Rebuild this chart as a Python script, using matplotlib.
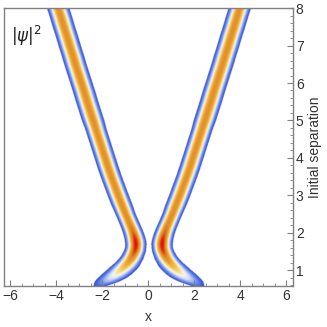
import numpy as np
import matplotlib.pyplot as plt
from matplotlib.colors import LinearSegmentedColormap

# Band centre |x|, peak height and width per separation
separation = [0.58, 0.65, 0.70, 0.80, 0.90, 1.00, 1.10, 1.20, 1.30, 1.40,
              1.50, 1.60, 1.70, 1.80, 1.90, 2.00, 2.10, 2.20, 2.30, 2.40,
              2.50, 2.75, 3.00, 3.25, 3.50, 3.75, 4.00, 4.25, 4.50, 4.75,
              5.00, 5.25, 5.50, 5.75, 6.00, 6.25, 6.50, 6.75, 7.00, 7.25,
              7.50, 7.75, 8.00]
centre = [2.12, 1.94, 1.81, 1.58, 1.38, 1.20, 1.04, 0.90, 0.78, 0.69,
          0.62, 0.58, 0.57, 0.59, 0.63, 0.68, 0.74, 0.81, 0.88, 0.95,
          1.02, 1.18, 1.34, 1.49, 1.64, 1.78, 1.91, 2.04, 2.17, 2.30,
          2.43, 2.56, 2.69, 2.81, 2.94, 3.07, 3.20, 3.32, 3.45, 3.57,
          3.70, 3.82, 3.95]
peak = [0.09, 0.15, 0.21, 0.31, 0.40, 0.49, 0.58, 0.67, 0.76, 0.85,
        0.93, 0.98, 1.00, 0.98, 0.93, 0.87, 0.83, 0.80, 0.78, 0.77,
        0.76, 0.75, 0.75, 0.75, 0.75, 0.75, 0.75, 0.75, 0.75, 0.75,
        0.75, 0.75, 0.75, 0.75, 0.75, 0.75, 0.75, 0.75, 0.75, 0.75,
        0.75, 0.75, 0.75]
width = [0.26, 0.30, 0.32, 0.33, 0.32, 0.30, 0.28, 0.25, 0.23, 0.21,
         0.20, 0.19, 0.19, 0.19, 0.19, 0.19, 0.19, 0.19, 0.19, 0.19,
         0.19, 0.20, 0.20, 0.20, 0.20, 0.20, 0.20, 0.20, 0.20, 0.20,
         0.21, 0.21, 0.21, 0.21, 0.21, 0.21, 0.21, 0.21, 0.21, 0.21,
         0.21, 0.21, 0.21]

x_ticks = [-6, -4, -2, 0, 2, 4, 6]
y_ticks = [1, 2, 3, 4, 5, 6, 7, 8]

# raster rows between the read separations, gaussian cross-section per band
s_fine = np.linspace(separation[0], separation[-1], 900)
xc = np.interp(s_fine, separation, centre)[:, None]
amp = np.interp(s_fine, separation, peak)[:, None]
sig = np.interp(s_fine, separation, width)[:, None]
xg = np.linspace(-6.3, 6.3, 900)
Z = amp * (np.exp(-(xg[None, :] + xc) ** 2 / (2 * sig ** 2)) +
           np.exp(-(xg[None, :] - xc) ** 2 / (2 * sig ** 2)))

cmap = LinearSegmentedColormap.from_list('temp', [
    (0.00, '#2f4fd6'), (0.10, '#7391ea'), (0.22, '#cdd8f6'),
    (0.32, '#f8f6ee'), (0.42, '#f6dc80'), (0.53, '#f2bc44'),
    (0.65, '#e99c34'), (0.78, '#e08a28'), (0.88, '#e05818'),
    (1.00, '#e40808')])
cmap.set_under('white')

fig = plt.figure(figsize=(3.27, 3.27), dpi=100)
ax = fig.add_axes([0.011, 0.126, 0.885, 0.849])
ax.imshow(Z, cmap=cmap, vmin=0.05, vmax=1.0, origin='lower', aspect='auto',
          extent=[xg[0], xg[-1], s_fine[0], s_fine[-1]],
          interpolation='bilinear')

ax.set_xlim(-6.3, 6.3)
ax.set_ylim(0.58, 8)
ax.set_xticks(x_ticks)
ax.set_xticklabels([str(v).replace('-', '\u2212') for v in x_ticks])
ax.set_xticks(np.arange(-6, 6.1, 0.5), minor=True)
ax.set_yticks(y_ticks)
ax.set_yticks(np.arange(0.6, 8.01, 0.2), minor=True)
ax.yaxis.tick_right()
ax.yaxis.set_label_position('right')
ax.tick_params(direction='in', colors='#808080', labelcolor='#333333',
               labelsize=10, length=4, width=0.8, pad=2)
ax.tick_params(which='minor', direction='in', colors='#808080', length=2,
               width=0.6)
for sp in ax.spines.values():
    sp.set_color('#808080')
    sp.set_linewidth(1.0)

for lab in ax.get_xticklabels() + ax.get_yticklabels():
    lab.set_family('Liberation Sans')

ax.set_xlabel('x', fontsize=10, color='#333333', family='Liberation Sans',
              labelpad=5)
ax.set_ylabel('Initial separation', fontsize=10, color='#333333',
              family='Liberation Sans', labelpad=3)

plt.rcParams['mathtext.fontset'] = 'dejavusans'
ax.text(0.025, 0.945, r'$|\psi|^2$', transform=ax.transAxes, fontsize=12,
        color='#222222', ha='left', va='top')

fig.savefig('out.png', dpi=100)
